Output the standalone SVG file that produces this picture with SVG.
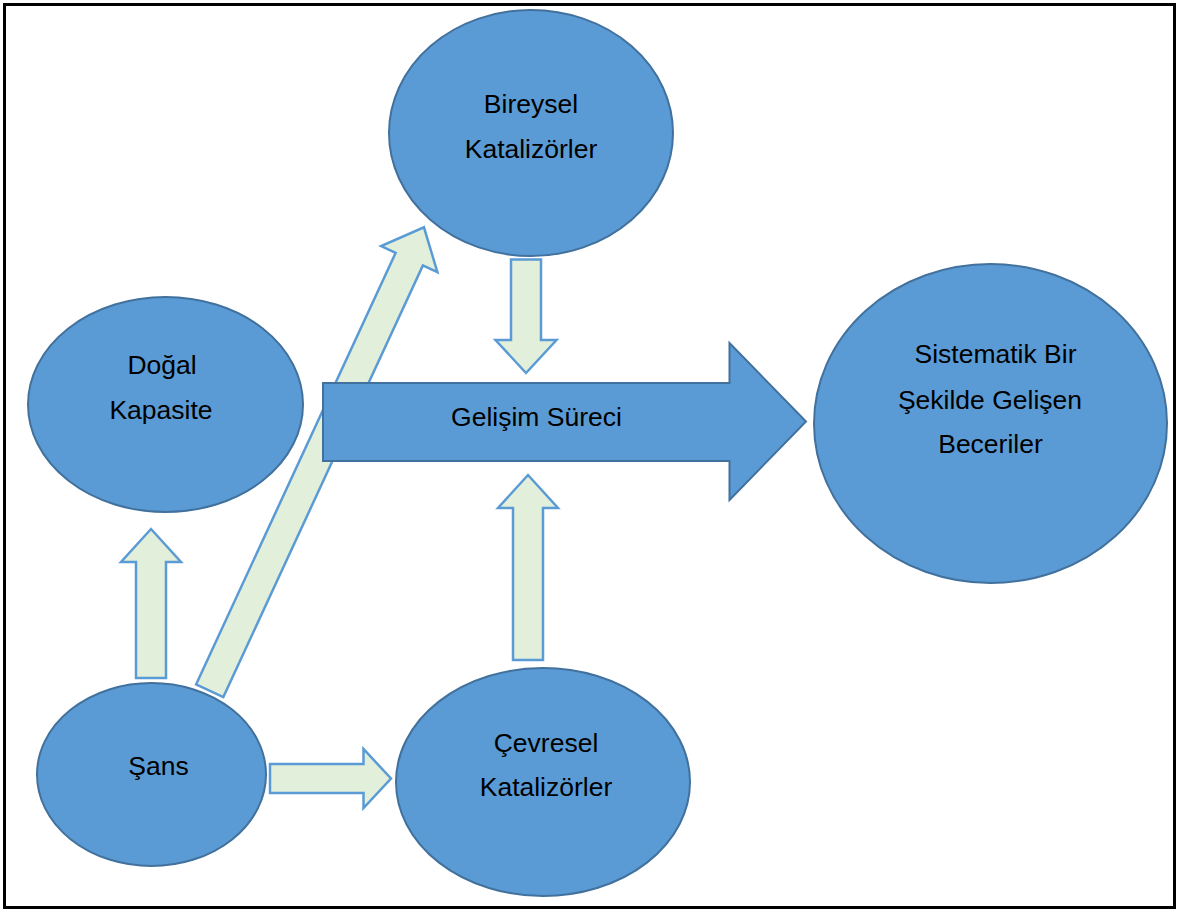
<svg xmlns="http://www.w3.org/2000/svg" width="1178" height="910" viewBox="0 0 1178 910">
  <style>
    .node { fill: #5B9BD5; stroke: #41719C; stroke-width: 2; }
    .flow { fill: #E2EFDA; stroke: #5B9BD5; stroke-width: 2.5; stroke-linejoin: miter; }
    .label { font-family: "Liberation Sans", Arial, sans-serif; font-size: 26.5px; fill: #000; text-anchor: middle; }
  </style>
  <rect x="0" y="0" width="1178" height="910" fill="#ffffff"/>
  <!-- page frame -->
  <rect x="4.5" y="4.5" width="1170" height="903" fill="none" stroke="#000" stroke-width="3"/>

  <!-- block arrows between the nodes -->
  <g id="connectors">
    <!-- Şans to Doğal Kapasite -->
    <polygon class="flow" points="136,678 136,562 121,562 151,529 181,562 166,562 166,678"/>
    <!-- Şans to Bireysel Katalizörler (diagonal) -->
    <polygon class="flow" transform="translate(209.7,690.8) rotate(-65.19)" points="0,-15 475.6,-15 475.6,-31 510.6,0 475.6,31 475.6,15 0,15"/>
    <!-- Şans to Çevresel Katalizörler -->
    <polygon class="flow" points="270,764 363.5,764 363.5,749 391,778.5 363.5,808 363.5,793 270,793"/>
    <!-- Bireysel Katalizörler to Gelişim Süreci -->
    <polygon class="flow" points="511,259.5 541,259.5 541,340 556.5,340 526,373 495.5,340 511,340"/>
    <!-- Çevresel Katalizörler to Gelişim Süreci -->
    <polygon class="flow" points="513,660 513,508 498,508 528,475 558,508 543,508 543,660"/>
  </g>

  <g id="gelisim-sureci">
    <polygon class="node" points="323,383 729.5,383 729.5,343 806,421.5 729.5,500 729.5,461 323,461"/>
    <text class="label" x="536.5" y="426">Gelişim Süreci</text>
  </g>

  <g id="bireysel-katalizorler">
    <ellipse class="node" cx="531" cy="133" rx="142" ry="123"/>
    <text class="label" x="531" y="113.3">Bireysel</text>
    <text class="label" x="531" y="157.5">Katalizörler</text>
  </g>

  <g id="dogal-kapasite">
    <ellipse class="node" cx="165.5" cy="404.5" rx="137.5" ry="107.5"/>
    <text class="label" x="162" y="374">Doğal</text>
    <text class="label" x="161" y="419">Kapasite</text>
  </g>

  <g id="sistematik-beceriler">
    <ellipse class="node" cx="990.5" cy="423.5" rx="176.5" ry="159.5"/>
    <text class="label" x="995.5" y="363">Sistematik Bir</text>
    <text class="label" x="990" y="408.5">Şekilde Gelişen</text>
    <text class="label" x="990.5" y="453">Beceriler</text>
  </g>

  <g id="sans">
    <ellipse class="node" cx="151.5" cy="774.5" rx="114.5" ry="91.5"/>
    <text class="label" x="158.5" y="774.5">Şans</text>
  </g>

  <g id="cevresel-katalizorler">
    <ellipse class="node" cx="543" cy="782" rx="147" ry="114"/>
    <text class="label" x="546" y="751.5">Çevresel</text>
    <text class="label" x="546" y="796">Katalizörler</text>
  </g>
</svg>
